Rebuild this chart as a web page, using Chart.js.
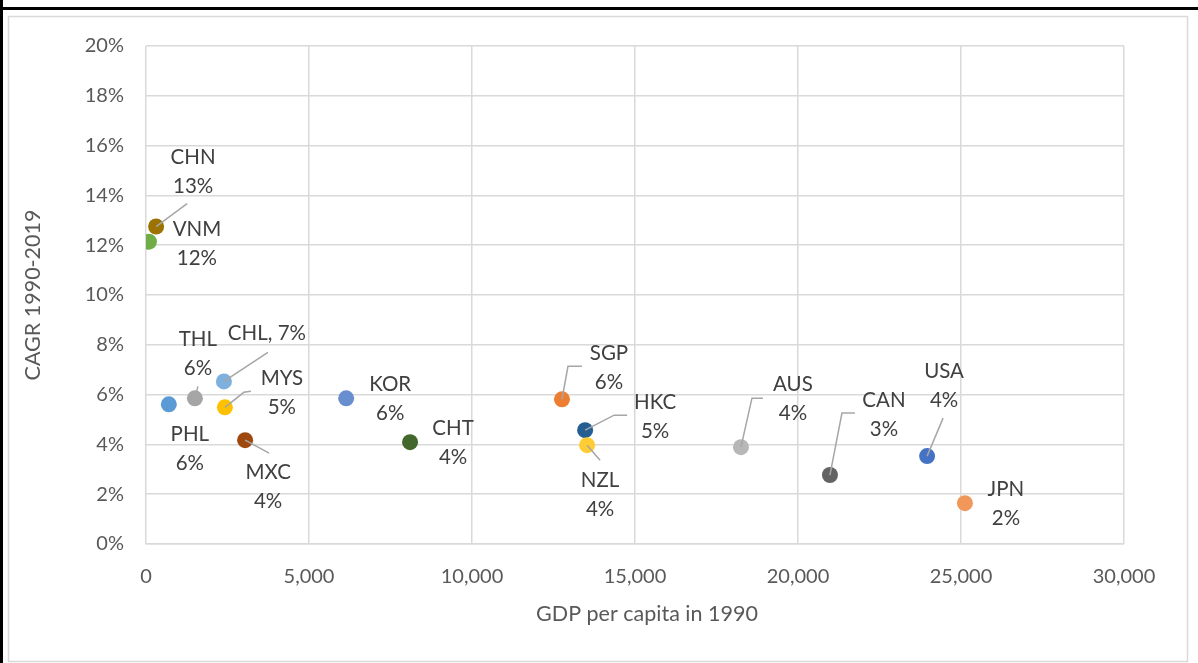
<!DOCTYPE html>
<html>
<head>
<meta charset="utf-8">
<script src="https://cdn.jsdelivr.net/npm/chart.js@4/dist/chart.umd.min.js"></script>
<style>
html,body{margin:0;padding:0;background:#fff;}
#wrap{position:absolute;left:0;top:0;width:1198px;height:663px;}
</style>
</head>
<body>
<div id="wrap"><canvas id="c" width="1198" height="663"></canvas></div>
<script>
// ---- data ----
const countries = ["CHN","VNM","PHL","THL","CHL","MYS","MXC","KOR","CHT","SGP","HKC","NZL","AUS","CAN","USA","JPN"];
const gdp1990   = [310, 90, 700, 1500, 2390, 2420, 3040, 6140, 8100, 12760, 13470, 13530, 18250, 20980, 23960, 25120];
const cagr      = [12.75, 12.14, 5.61, 5.85, 6.53, 5.49, 4.17, 5.85, 4.09, 5.81, 4.57, 3.97, 3.89, 2.77, 3.53, 1.64];
const pctLabels = ["13%","12%","6%","6%","7%","5%","4%","6%","4%","6%","5%","4%","4%","3%","4%","2%"];
const xTicks = [0, 5000, 10000, 15000, 20000, 25000, 30000];
const yTicks = [0, 2, 4, 6, 8, 10, 12, 14, 16, 18, 20];
const xTitle = 'GDP per capita in 1990';
const yTitle = 'CAGR 1990-2019';

// ---- styles ----
const colors = ["#9c7200","#70ad47","#5b9bd5","#a5a5a5","#7eb0de","#ffc000","#9e480e","#698ed0","#43682b","#ed7d31","#255e91","#ffcd33","#b7b7b7","#636363","#4472c4","#f1975a"];
// label layout: [dx, dy] of label center relative to point (px), single-line flag, leader path points relative to point
const labelLayout = {
  CHN:{dx:37,dy:-55,leader:[[31,-23]]},
  VNM:{dx:48,dy:2,leader:null},
  PHL:{dx:21,dy:45,leader:null},
  THL:{dx:3,dy:-44,leader:[[3,-12]]},
  CHL:{dx:43,dy:-48,single:true,leader:[[44,-29]]},
  MYS:{dx:57,dy:-14,leader:[[19,-15],[26,-16]]},
  MXC:{dx:23,dy:47,leader:[[24,13]]},
  KOR:{dx:44,dy:1,leader:null},
  CHT:{dx:43,dy:1,leader:null},
  SGP:{dx:47,dy:-31,leader:[[6,-33],[20,-33]]},
  HKC:{dx:70,dy:-13,leader:[[29,-15],[42,-15]]},
  NZL:{dx:13,dy:50,leader:[[13,15]]},
  AUS:{dx:52,dy:-48,leader:[[11,-49],[22,-49]]},
  CAN:{dx:54,dy:-60,leader:[[12,-62],[25,-62]]},
  USA:{dx:17,dy:-70,leader:[[16,-38]]},
  JPN:{dx:41,dy:1,leader:null}
};
const FONT = "Lato, 'Open Sans', sans-serif";

const points = countries.map((c,i)=>({x:gdp1990[i], y:cagr[i]}));

const framePlugin = {
  id:'frame',
  beforeDraw(chart){
    const ctx = chart.ctx;
    ctx.save();
    ctx.fillStyle = '#fff';
    ctx.fillRect(0,0,chart.width,chart.height);
    ctx.fillStyle = '#000';
    ctx.fillRect(0,7,1198,3);
    ctx.fillRect(0,0,3,663);
    ctx.strokeStyle = '#d9d9d9';
    ctx.lineWidth = 1.5;
    ctx.strokeRect(8.5,16.5,1179,645);
    // x axis title, centred on the whole chart frame
    ctx.fillStyle = '#595959';
    ctx.font = "21.5px " + FONT;
    ctx.textAlign = 'center';
    ctx.textBaseline = 'middle';
    ctx.fillText(xTitle, 647, 614);
    ctx.restore();
  }
};

const labelPlugin = {
  id:'labels',
  afterDatasetsDraw(chart){
    const ctx = chart.ctx;
    const meta = chart.getDatasetMeta(0);
    ctx.save();
    // leaders
    ctx.strokeStyle = '#a6a6a6';
    ctx.lineWidth = 1.5;
    meta.data.forEach((el,i)=>{
      const L = labelLayout[countries[i]];
      if(!L.leader) return;
      ctx.beginPath();
      ctx.moveTo(el.x, el.y);
      L.leader.forEach(p=>ctx.lineTo(el.x+p[0], el.y+p[1]));
      ctx.stroke();
    });
    // text
    ctx.fillStyle = '#404040';
    ctx.font = "20.5px " + FONT;
    ctx.textAlign = 'center';
    ctx.textBaseline = 'middle';
    meta.data.forEach((el,i)=>{
      const L = labelLayout[countries[i]];
      const cx = el.x + L.dx, cy = el.y + L.dy;
      if(L.single){
        ctx.fillText(countries[i] + ", " + pctLabels[i], cx, cy);
      } else {
        ctx.fillText(countries[i], cx, cy - 14.5);
        ctx.fillText(pctLabels[i], cx, cy + 14.5);
      }
    });
    ctx.restore();
  }
};

new Chart(document.getElementById('c'), {
  type:'scatter',
  data:{ datasets:[{
    data: points,
    backgroundColor: colors,
    borderColor: colors,
    pointRadius: 8,
    pointHoverRadius: 8,
    borderWidth: 0
  }]},
  options:{
    responsive:false,
    animation:false,
    events:[],
    layout:{padding:{left:20, top:46, right:74, bottom:0}},
    plugins:{legend:{display:false}, tooltip:{enabled:false}},
    scales:{
      x:{
        type:'linear', min:0, max:30000,
        afterBuildTicks(s){ s.ticks = xTicks.map(v=>({value:v})); },
        afterFit(s){ s.height = 119; },
        grid:{color:'#d9d9d9', lineWidth:1.5, drawTicks:false},
        border:{color:'#d9d9d9', width:1.5},
        ticks:{color:'#595959', font:{family:FONT, size:20}, padding:21,
          callback:v=>v.toLocaleString('en-US')},
        title:{display:false}
      },
      y:{
        type:'linear', min:0, max:20,
        afterBuildTicks(s){ s.ticks = yTicks.map(v=>({value:v})); },
        afterFit(s){ s.width = 126; },
        grid:{color:'#d9d9d9', lineWidth:1.5, drawTicks:false},
        border:{display:false},
        ticks:{color:'#595959', font:{family:FONT, size:20}, padding:22,
          callback:v=>v+'%'},
        title:{display:true, text:yTitle, color:'#595959',
          font:{family:FONT, size:21.5}, padding:{top:0,bottom:6}}
      }
    }
  },
  plugins:[framePlugin, labelPlugin]
});
</script>
</body>
</html>
